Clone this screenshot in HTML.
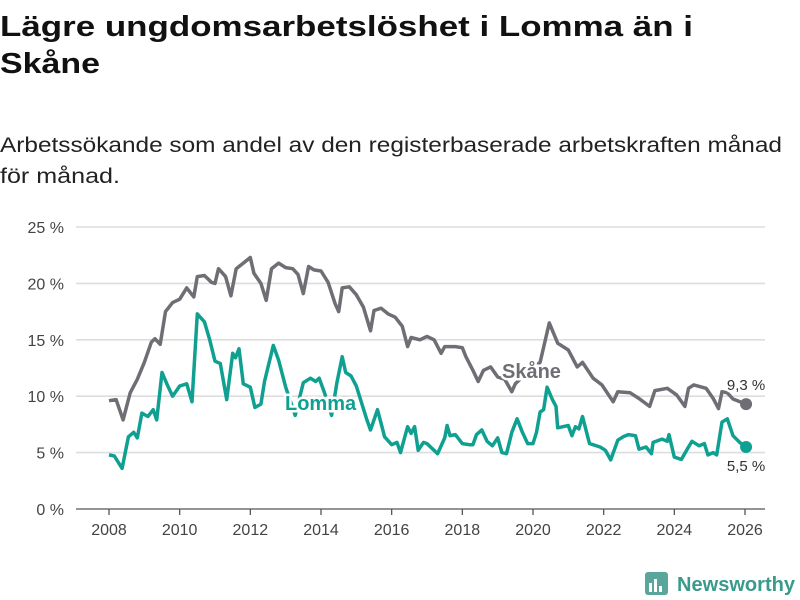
<!DOCTYPE html>
<html><head><meta charset="utf-8"><style>
html,body{margin:0;padding:0;background:#fff;}
svg{display:block;font-family:"Liberation Sans","DejaVu Sans",sans-serif;}
</style></head><body>
<svg id="chart" width="800" height="600" viewBox="0 0 800 600">
<text x="0" y="36" font-size="29" font-weight="bold" fill="#111" textLength="693" lengthAdjust="spacingAndGlyphs">Lägre ungdomsarbetslöshet i Lomma än i</text>
<text x="0" y="73" font-size="29" font-weight="bold" fill="#111" textLength="100" lengthAdjust="spacingAndGlyphs">Skåne</text>
<text x="0" y="152" font-size="21" fill="#222" textLength="782" lengthAdjust="spacingAndGlyphs">Arbetssökande som andel av den registerbaserade arbetskraften månad</text>
<text x="0" y="183" font-size="21" fill="#222" textLength="120" lengthAdjust="spacingAndGlyphs">för månad.</text>
<g id="grid"></g>
<g id="axes"></g>
<g id="series"></g>
<g>
<rect x="645" y="572" width="23" height="23" rx="3" fill="#5aa69a"/>
<rect x="649" y="583" width="3" height="9" fill="#fff"/><rect x="654" y="579" width="3" height="13" fill="#fff"/><rect x="659" y="586" width="3" height="6" fill="#fff"/>
<text x="677" y="591" font-size="20" font-weight="bold" fill="#3a9a8c" textLength="118" lengthAdjust="spacingAndGlyphs">Newsworthy</text>
</g>
</svg>
<script>
const yTicks=[0,5,10,15,20,25];
const yTickLabels=["0 %","5 %","10 %","15 %","20 %","25 %"];
const xTicks=[2008,2010,2012,2014,2016,2018,2020,2022,2024,2026];
const skaneDates=[2008.0,2008.2,2008.4,2008.6,2008.8,2009.0,2009.2,2009.3,2009.45,2009.6,2009.8,2010.0,2010.2,2010.4,2010.5,2010.7,2010.9,2011.0,2011.1,2011.3,2011.45,2011.6,2011.8,2012.0,2012.1,2012.3,2012.45,2012.6,2012.8,2013.0,2013.2,2013.35,2013.5,2013.65,2013.8,2014.0,2014.2,2014.4,2014.5,2014.6,2014.8,2015.0,2015.2,2015.4,2015.5,2015.7,2015.9,2016.1,2016.3,2016.45,2016.55,2016.8,2017.0,2017.2,2017.4,2017.5,2017.8,2018.0,2018.1,2018.3,2018.45,2018.6,2018.8,2019.0,2019.2,2019.4,2019.5,2019.8,2020.0,2020.2,2020.46,2020.7,2021.0,2021.25,2021.4,2021.7,2021.95,2022.27,2022.4,2022.75,2023.0,2023.3,2023.45,2023.8,2024.07,2024.3,2024.4,2024.55,2024.9,2025.1,2025.25,2025.35,2025.5,2025.66,2026.03];
const skaneValues=[9.6,9.7,7.9,10.3,11.5,13.0,14.8,15.1,14.6,17.5,18.3,18.6,19.6,18.8,20.6,20.7,20.1,20.0,21.3,20.6,18.9,21.3,21.8,22.3,20.9,20.0,18.5,21.3,21.8,21.4,21.3,20.8,19.1,21.5,21.2,21.1,20.1,18.2,17.5,19.6,19.7,19.0,17.9,15.8,17.6,17.8,17.3,17.0,16.2,14.4,15.2,15.0,15.3,15.0,13.8,14.4,14.4,14.3,13.5,12.3,11.3,12.3,12.6,11.7,11.5,10.4,11.1,12.0,12.5,13.0,16.5,14.7,14.1,12.6,13.0,11.6,11.0,9.5,10.4,10.3,9.8,9.1,10.5,10.7,10.1,9.1,10.7,11.0,10.7,9.8,8.9,10.4,10.3,9.75,9.3];
const lommaDates=[2008.0,2008.15,2008.37,2008.55,2008.7,2008.8,2008.93,2009.1,2009.25,2009.35,2009.5,2009.65,2009.8,2010.0,2010.2,2010.35,2010.5,2010.7,2010.85,2011.0,2011.15,2011.33,2011.5,2011.58,2011.68,2011.8,2012.0,2012.13,2012.3,2012.4,2012.65,2012.8,2013.0,2013.27,2013.5,2013.7,2013.85,2013.95,2014.1,2014.3,2014.45,2014.6,2014.7,2014.85,2015.0,2015.3,2015.4,2015.6,2015.8,2016.0,2016.15,2016.25,2016.45,2016.55,2016.65,2016.75,2016.9,2017.0,2017.3,2017.5,2017.57,2017.65,2017.8,2018.0,2018.2,2018.3,2018.4,2018.55,2018.7,2018.85,2019.0,2019.12,2019.25,2019.4,2019.55,2019.7,2019.85,2020.0,2020.1,2020.2,2020.3,2020.4,2020.55,2020.65,2020.7,2020.85,2021.0,2021.1,2021.2,2021.3,2021.4,2021.6,2021.9,2022.05,2022.2,2022.4,2022.55,2022.7,2022.9,2023.0,2023.2,2023.35,2023.4,2023.65,2023.8,2023.85,2024.0,2024.2,2024.4,2024.5,2024.7,2024.85,2024.95,2025.1,2025.2,2025.35,2025.5,2025.66,2025.85,2026.03];
const lommaValues=[4.8,4.7,3.6,6.4,6.8,6.3,8.5,8.2,8.8,7.9,12.1,11.0,10.0,10.9,11.1,9.5,17.3,16.6,15.0,13.1,12.9,9.7,13.8,13.4,14.2,11.1,10.8,9.0,9.3,11.3,14.5,13.2,10.8,8.3,11.2,11.6,11.3,11.6,10.3,8.3,11.2,13.5,12.1,11.8,10.9,7.9,7.0,8.8,6.4,5.7,5.9,5.0,7.3,6.7,7.3,5.2,5.9,5.8,4.9,6.3,7.4,6.5,6.6,5.8,5.7,5.7,6.6,7.0,6.0,5.6,6.3,5.0,4.9,6.8,8.0,6.8,5.8,5.8,6.8,8.6,8.8,10.8,9.7,9.1,7.2,7.3,7.4,6.5,7.3,7.1,8.2,5.8,5.5,5.2,4.35,6.1,6.4,6.6,6.5,5.3,5.5,4.9,5.9,6.2,6.0,6.6,4.6,4.4,5.5,6.0,5.6,5.8,4.8,5.0,4.8,7.7,8.0,6.5,5.9,5.5];
const lastLabels=["9,3 %","5,5 %"];

const NS="http://www.w3.org/2000/svg";
const X0=109,X1=745,Y0=509,Y25=227;
const xs=d=>X0+(d-2008)*(X1-X0)/18;
const ys=v=>Y0+(v)*(Y25-Y0)/25;
function mk(tag,attrs,parent){const e=document.createElementNS(NS,tag);for(const k in attrs)e.setAttribute(k,attrs[k]);parent.appendChild(e);return e;}
const grid=document.getElementById('grid'),axes=document.getElementById('axes'),series=document.getElementById('series');
yTicks.forEach((t,i)=>{
  const l=mk('line',{x1:76,x2:765,y1:ys(t),y2:ys(t),stroke:t===0?'#555':'#ddd','stroke-width':t===0?1.3:1.6},grid);
  
  
  const tx=mk('text',{x:64,y:ys(t)+6,'text-anchor':'end','font-size':16,fill:'#444'},axes);
  tx.textContent=yTickLabels[i];
  
  
});
xTicks.forEach(t=>{
  const l=mk('line',{x1:xs(t),x2:xs(t),y1:Y0,y2:Y0+6,stroke:'#555','stroke-width':1.3},axes);
  
  
  const tx=mk('text',{x:xs(t),y:Y0+26,'text-anchor':'middle','font-size':16,fill:'#444'},axes);
  tx.textContent=t;
  
  
});
function line(dates,vals,color,name){
  const d=dates.map((t,i)=>(i?'L':'M')+xs(t).toFixed(1)+','+ys(vals[i]).toFixed(1)).join('');
  const p=mk('path',{d:d,fill:'none',stroke:color,'stroke-width':3.5,'stroke-linejoin':'round'},series);
  
  
  const n=dates.length-1;
  const c=mk('circle',{cx:xs(dates[n]),cy:ys(vals[n]),r:6,fill:color},series);
  
  
}
line(skaneDates,skaneValues,'#6f6e74','skane');
line(lommaDates,lommaValues,'#10a091','lomma');
function lbl(x,y,txt,color,size,weight,name,anchor){
  const t=mk('text',{x:x,y:y,'font-size':size,'font-weight':weight,fill:color,stroke:'#fff','stroke-width':5,'paint-order':'stroke','text-anchor':anchor||'start'},series);
  t.textContent=txt;
  
  
}
lbl(502,378,'Skåne','#6f6e74',20,'bold','skane-label');
lbl(285,410,'Lomma','#10a091',20,'bold','lomma-label');
const n1=skaneDates.length-1,n2=lommaDates.length-1;
lbl(xs(skaneDates[n1]),ys(skaneValues[n1])-14,lastLabels[0],'#333',15,'normal','skane-last-value','middle');
lbl(xs(lommaDates[n2]),ys(lommaValues[n2])+24,lastLabels[1],'#333',15,'normal','lomma-last-value','middle');
</script>
</body></html>
